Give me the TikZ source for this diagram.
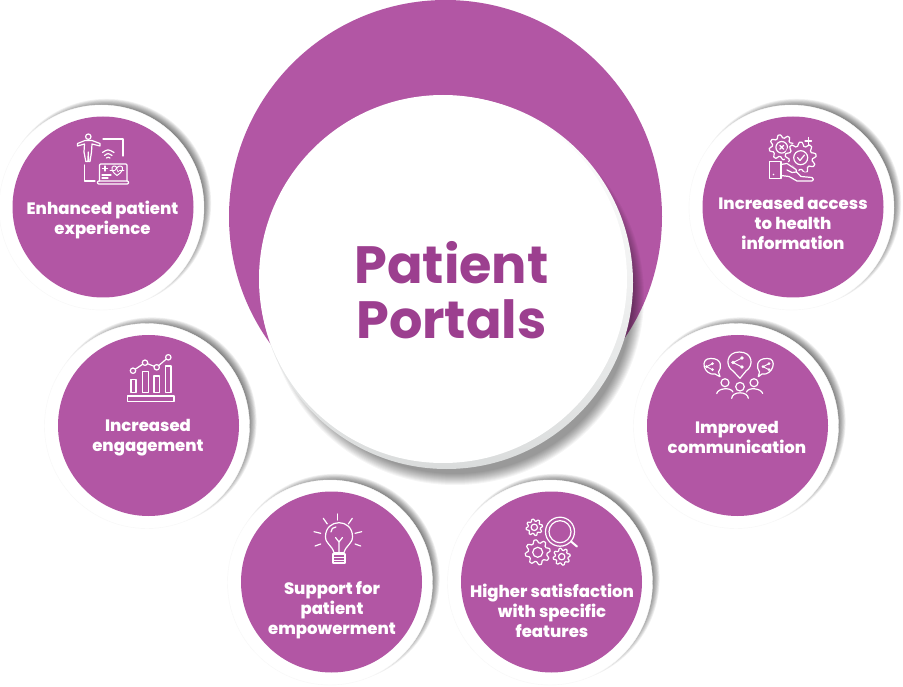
\documentclass[tikz,border=0pt]{standalone}
\usepackage{fontspec}
\setmainfont{Poppins}
\newfontfamily\heavyfont{Poppins ExtraBold}
\definecolor{discpurple}{HTML}{B256A4}
\definecolor{titlepurple}{HTML}{9C3F8F}
\definecolor{rimgray}{HTML}{DADCDC}
\tikzset{
  icon/.style={draw=white,line width=1.2pt,line join=round,line cap=round},
  disclabel/.style={text=white,align=center,inner sep=0pt,font=\fontsize{16.5}{20}\selectfont\heavyfont},
  titlelabel/.style={text=titlepurple,align=center,inner sep=0pt,font=\fontsize{52.5}{55}\selectfont\bfseries},
}
% soft shadow, white ring and purple disc of one small circle
\newcommand{\sidedisc}[2]{%
  \foreach \s in {0,...,9} {\fill[black,fill opacity=.06] ({#1+3.6},{#2-3.6}) circle ({104.5-\s*0.8 pt});}
  \fill[white] ({#1-1.5},{#2+0.5}) circle (102.5pt);
  \draw[black!3,line width=.4pt] ({#1-1.5},{#2+0.5}) circle (102.5pt);
  \fill[discpurple] (#1,#2) circle (90.5pt);
}
\newcommand{\gearshape}[5][]{% cx cy outer-r teeth
  \draw[icon,#1] plot[samples=#5*8+1,domain=0:360]
    ({#2+(#4-0.24*#4*max(0,min(1,0.5+1.4*sin(#5*\x))))*cos(\x)},
     {#3+(#4-0.24*#4*max(0,min(1,0.5+1.4*sin(#5*\x))))*sin(\x)}) -- cycle;
}
\newcommand{\sharesign}[4]{% cx cy size dot-radius
  \draw[icon,line width=.9pt] ({#1-#3},#2) -- ({#1+#3},{#2-#3}) ({#1-#3},#2) -- ({#1+#3},{#2+#3});
  \fill[white] ({#1-#3},#2) circle (#4pt) ({#1+#3},{#2-#3}) circle (#4pt) ({#1+#3},{#2+#3}) circle (#4pt);
}
\begin{document}
\begin{tikzpicture}[x=1pt,y=-1pt]
\useasboundingbox (0,0) rectangle (903,687);
\fill[white] (0,0) rectangle (903,687);

% side discs
\sidedisc{103}{207}
\sidedisc{793}{207}
\sidedisc{148.5}{425.5}
\sidedisc{737.5}{425.5}
\sidedisc{331.5}{582}
\sidedisc{551.5}{582}

% central group
\fill[discpurple] (445.5,216.5) circle (216.5pt);
\foreach \s in {0,...,11} {\fill[black,fill opacity=.04] (455,296) circle ({189-\s*1.0 pt});}
\shade[top color=white,bottom color=rimgray,middle color=white!60!rimgray] (446.5,282.5) circle (186.5pt);
\fill[white] (443,279) circle (184pt);

% labels
\node[titlelabel] (title) at (451.5,290.5) {Patient\\Portals};
\node[disclabel] (enhanced) at (102.5,220) {Enhanced patient\\experience};
\node[disclabel] (access) at (793,223.5) {Increased access\\to health\\information};
\node[disclabel] (engagement) at (148,437.5) {Increased\\engagement};
\node[disclabel] (communication) at (737,437.5) {Improved\\communication};
\node[disclabel] (support) at (332,610.5) {Support for\\patient\\empowerment};
\node[disclabel] (satisfaction) at (552,610.5) {Higher satisfaction\\with specific\\features};

% icon: enhanced patient experience
\draw[icon] (88.3,136.7) circle (2.7pt);
\draw[icon] (77.5,143.5) -- (85,140.5) -- (92,140.5) -- (100,143.5) -- (100,146) -- (92,144) -- (91.5,152) -- (90,161.5) -- (88.5,161.5) -- (88.3,152) -- (87.8,161.5) -- (85.8,161.5) -- (84,152) -- (84.5,144) -- (77.5,146) -- cycle;
\draw[icon] (103,139) -- (123,139) -- (123,156);
\draw[icon] (84.5,165) -- (84.5,181) -- (95,181);
\draw[icon] (102.5,152.5) .. controls (108,149) .. (114,152.5);
\draw[icon] (104.5,155.5) .. controls (108,153) .. (112,155.5);
\draw[icon] (106.5,158) .. controls (108.3,157) .. (110,158);
\draw[icon,rounded corners=1pt] (99.5,181) -- (99.5,164) -- (127,164) -- (127,181);
\draw[icon,rounded corners=1pt] (97.5,181) rectangle (128.5,184);
\draw[icon] (102.5,168.5) -- (107.5,168.5) (105,166) -- (105,171);
\draw[icon] (102,175) -- (111,175) (102,178) -- (108,178);
\draw[icon,line width=1pt] (112,170) .. controls (111,165) and (116,165) .. (117,168) .. controls (118,165) and (124,165) .. (122.5,170) .. controls (121.5,172.5) and (119,174) .. (117,175.5) .. controls (115,174) and (113,172.5) .. (112,170) -- cycle;
\draw[icon,line width=.7pt] (110,170.5) -- (115,170.5) -- (116.5,168) -- (118,172) -- (119.5,170.5) -- (124,170.5);

% icon: increased access
\gearshape{781.7}{147.3}{12.5}{8}
\draw[icon] (781.7,147.3) circle (5.8pt);
\draw[icon] (779.7,145.3) -- (783.7,149.3) (783.7,145.3) -- (779.7,149.3);
\fill[discpurple] (800.7,157.7) circle (16pt);
\gearshape{800.7}{157.7}{15.5}{9}
\draw[icon] (800.7,157.7) circle (7pt);
\draw[icon] (797.5,157.5) -- (800,160.5) -- (804.5,155);
\draw[icon] (805,141) -- (811.5,141) (808.2,137.5) -- (808.2,144.5);
\fill[discpurple] (769,161) -- (787,161) -- (800,172) -- (815,173) -- (815,183) -- (769,183) -- cycle;
\draw[icon] (769.3,161.7) rectangle (781,178.3);
\fill[white] (773.5,174.5) circle (.8pt);
\draw[icon] (781,164.5) -- (787,163.5) -- (796,169.5) -- (796.5,172) -- (792,172.5) -- (787,170);
\draw[icon] (781,175.5) -- (789,176.5) -- (797,181) -- (812,181) -- (813.5,179.5) -- (812,177.5) -- (801,176.5) -- (796.5,172);

% icon: increased engagement
\draw[icon] (127.3,396) rectangle (174,401.3);
\draw[icon] (131,379.3) rectangle (136,392.3);
\draw[icon] (142.7,371.7) rectangle (148.7,392.3);
\draw[icon] (154,376) rectangle (159.3,392.3);
\draw[icon] (165.3,366) rectangle (171,392.3);
\draw[icon] (133,370.7) -- (145,362.7) -- (156.7,367.3) -- (168.3,357.3);
\foreach \dx/\dy in {133/370.7,145/362.7,156.7/367.3,168.3/357.3} {\draw[icon,fill=discpurple] (\dx,\dy) circle (2.7pt);}

% icon: improved communication
\draw[icon] (733,371) .. controls (725,366) and (726,352) .. (739.3,352) .. controls (753,352) and (754,366) .. (746,371) -- (740,378.3) -- cycle;
\draw[icon] (715,374) .. controls (704,376) and (699,358) .. (710.7,358.5) .. controls (722,358) and (722,368) .. (718.5,372) -- (720,376.7) -- cycle;
\draw[icon] (762,374) .. controls (773,376) and (778,358) .. (767.3,358.5) .. controls (756,358) and (756,368) .. (759.5,372) -- (758.3,376.7) -- cycle;
\sharesign{737.5}{362.5}{4.5}{1.9}
\sharesign{709.5}{366.7}{3}{1.5}
\sharesign{766}{366.7}{3}{1.5}
\draw[icon] (725,382.7) circle (4pt);
\draw[icon] (754,382.7) circle (4pt);
\draw[icon] (740,386.7) circle (4.3pt);
\draw[icon] (716.7,393.5) .. controls (718,388) and (731,387) .. (733,392);
\draw[icon] (762.7,393.5) .. controls (761,388) and (748,387) .. (746.5,392);
\draw[icon] (731.7,398.3) .. controls (732,391) and (748,391) .. (748.3,398.3);

% icon: patient empowerment
\draw[icon] (334,552.7) .. controls (332,545) and (325.5,544) .. (325.5,536.7) .. controls (325.5,518) and (352.5,518) .. (352.5,536.7) .. controls (352.5,544) and (346,545) .. (344,552.7) -- cycle;
\draw[icon] (333,554) rectangle (345,563);
\draw[icon,line width=.8pt] (333,557) -- (345,557) (333,560) -- (345,560);
\draw[icon] (339,552) -- (339,542) (335.5,537.5) -- (339,542) -- (342.5,537.5);
\draw[icon] (331,532) .. controls (331,529) and (333,527) .. (336,527);
\draw[icon] (337.7,514) -- (337.7,520);
\draw[icon] (323.3,518.3) -- (327.3,524);
\draw[icon] (352.3,518.3) -- (348.3,524);
\draw[icon] (314,531.7) -- (320.7,533.3);
\draw[icon] (361.7,531.7) -- (355,533.3);
\draw[icon] (315,546) -- (320.7,544);
\draw[icon] (360.7,546) -- (355,544);

% icon: higher satisfaction
\gearshape{534.3}{527.3}{8.2}{8}
\draw[icon] (534.3,527.3) circle (3.2pt);
\draw[icon] (560,531.7) circle (14.5pt);
\draw[icon] (560,531.7) circle (11pt);
\draw[icon,line width=2pt] (571,541.5) -- (577,546.5);
\gearshape{537.7}{552.3}{12.5}{8}
\draw[icon] (537.7,552.3) circle (5pt);
\gearshape{561.7}{556.7}{8.5}{8}
\draw[icon] (561.7,556.7) circle (3.2pt);
\end{tikzpicture}
\end{document}
